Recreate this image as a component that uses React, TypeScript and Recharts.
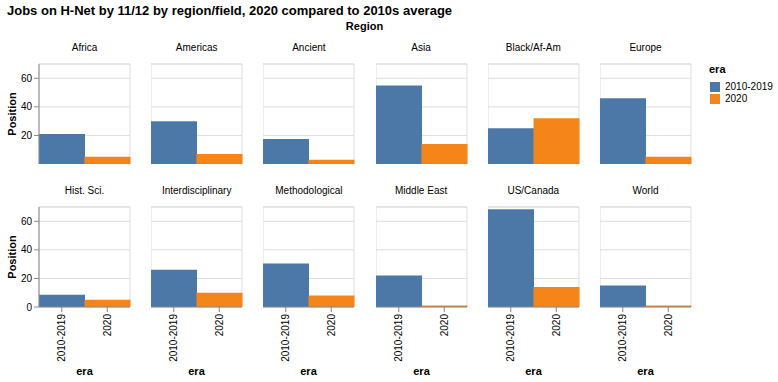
import { BarChart, Bar, Cell, XAxis, YAxis, CartesianGrid, ReferenceLine } from "recharts";

const regions = [
    "Africa", "Americas", "Ancient", "Asia", "Black/Af-Am", "Europe",
    "Hist. Sci.", "Interdisciplinary", "Methodological", "Middle East", "US/Canada", "World",
];
const eras = ["2010-2019", "2020"];
const avg2010s = [21, 30, 17.5, 55, 25, 46, 8.5, 26, 30.5, 22, 68.5, 15];
const jobs2020 = [5, 7, 3, 14, 32, 5, 5, 10, 8, 1, 14, 1];
const eraColors = ["#4c78a8", "#f58518"];
const yTicks = [0, 20, 40, 60];

const FONT = '"Liberation Sans", Arial, Helvetica, sans-serif';
const COLS = 6;
const PLOT_W = 91;
const PLOT_H = 100;
const rowTops = [64, 206.5];
const colLeft = (c: number) => 39 + c * 112.2;

const EraTick = (props: any) => {
    const { x, y, payload } = props;
    return (
        <text
            x={x}
            y={y}
            transform={`rotate(-90 ${x} ${y})`}
            textAnchor="end"
            dominantBaseline="central"
            fontSize={10}
            fill="#000"
        >
            {payload.value}
        </text>
    );
};

const Panel: React.FC<{ idx: number }> = ({ idx }) => {
    const row = Math.floor(idx / COLS);
    const col = idx % COLS;
    const showY = col === 0;
    const showX = row === 1;
    const yw = showY ? 39 : 0;
    const xh = showX ? 70 : 0;
    const data = eras.map((era, i) => ({ era, value: i === 0 ? avg2010s[idx] : jobs2020[idx] }));
    return (
        <div style={{ position: "absolute", left: colLeft(col) - yw, top: rowTops[row] - 2 }}>
            <BarChart
                width={yw + PLOT_W + 2}
                height={PLOT_H + 2 + xh}
                data={data}
                barCategoryGap={0}
                margin={{ top: 2, right: 2, left: 0, bottom: 0 }}
            >
                <CartesianGrid stroke="#ddd" verticalPoints={[yw, yw + PLOT_W]} />
                <ReferenceLine y={70} stroke="#ddd" />
                <XAxis
                    dataKey="era"
                    hide={!showX}
                    height={xh}
                    interval={0}
                    tickSize={5}
                    tickMargin={2}
                    stroke="#888"
                    tick={<EraTick />}
                    label={{
                        value: "era",
                        position: "insideBottom",
                        offset: 2,
                        style: { fontSize: 11, fontWeight: 700, fill: "#000" },
                    }}
                />
                <YAxis
                    hide={!showY}
                    width={yw}
                    type="number"
                    domain={[0, 70]}
                    ticks={yTicks}
                    tickSize={5}
                    tickMargin={2}
                    stroke="#888"
                    tick={{ fontSize: 10, fill: "#000" }}
                    label={{
                        value: "Position",
                        angle: -90,
                        position: "insideLeft",
                        offset: 12,
                        style: { textAnchor: "middle", fontSize: 11, fontWeight: 700, fill: "#000" },
                    }}
                />
                <Bar dataKey="value" isAnimationActive={false}>
                    {data.map((d, i) => (
                        <Cell key={d.era} fill={eraColors[i]} />
                    ))}
                </Bar>
            </BarChart>
        </div>
    );
};

const App: React.FC = () => {
    return (
        <div style={{ position: "relative", width: 778, height: 382, fontFamily: FONT, color: "#000" }}>
            <style>{"body{margin:0}"}</style>
            <div style={{ position: "absolute", left: 7, top: 3, fontSize: 13, fontWeight: 700, whiteSpace: "nowrap" }}>
                Jobs on H-Net by 11/12 by region/field, 2020 compared to 2010s average
            </div>
            <div style={{ position: "absolute", left: 39, width: 651, top: 20, textAlign: "center", fontSize: 11, fontWeight: 700 }}>
                Region
            </div>
            {regions.map((r, i) => {
                const row = Math.floor(i / COLS);
                const col = i % COLS;
                return (
                    <div
                        key={r}
                        style={{
                            position: "absolute",
                            left: colLeft(col) - 20,
                            width: PLOT_W + 40,
                            top: rowTops[row] - 22,
                            textAlign: "center",
                            fontSize: 10,
                            lineHeight: "12px",
                        }}
                    >
                        {r}
                    </div>
                );
            })}
            {regions.map((r, i) => (
                <Panel key={r} idx={i} />
            ))}
            <div style={{ position: "absolute", left: 709, top: 63, fontSize: 11, fontWeight: 700, lineHeight: "13px" }}>era</div>
            {eras.map((e, i) => (
                <div key={e} style={{ position: "absolute", left: 710, top: 81.5 + i * 12.5, display: "flex", alignItems: "center" }}>
                    <div style={{ width: 10, height: 10, background: eraColors[i] }} />
                    <span style={{ marginLeft: 5, fontSize: 10, lineHeight: "10px" }}>{e}</span>
                </div>
            ))}
        </div>
    );
};

export default App;
